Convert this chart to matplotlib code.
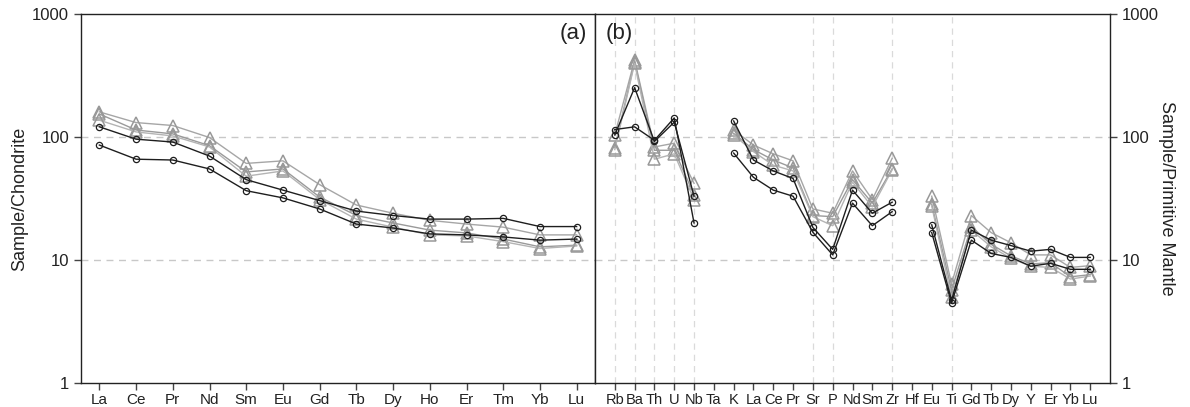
import numpy as np
import matplotlib.pyplot as plt

plt.rcParams['font.family'] = ['Liberation Sans', 'DejaVu Sans']

# (a) chondrite-normalised REE
ree = ["La", "Ce", "Pr", "Nd", "Sm", "Eu", "Gd", "Tb", "Dy", "Ho", "Er", "Tm", "Yb", "Lu"]
ree_tri1 = [160, 131, 124, 99, 61, 64, 41, 28, 24, 21, 19.6, 18.5, 16, 16]
ree_tri2 = [154, 114, 106, 85, 52, 55, 32.5, 23, 20, 17.5, 16.6, 14.8, 12.8, 13.2]
ree_tri3 = [137, 110, 102, 83, 48, 53, 31, 21.5, 18.5, 16, 15.7, 14.1, 12.4, 13.0]
ree_circ1 = [121, 96, 91, 70, 45, 37, 30.4, 25, 23, 21.5, 21.5, 21.8, 18.7, 18.7]
ree_circ2 = [86, 66, 65, 55, 36.6, 32, 26, 19.6, 18.2, 16.3, 16, 15.4, 14.5, 14.8]

# (b) primitive-mantle-normalised spider diagram (Ta, Hf not analysed)
nan = np.nan
spider = ["Rb", "Ba", "Th", "U", "Nb", "Ta", "K", "La", "Ce", "Pr", "Sr", "P", "Nd",
          "Sm", "Zr", "Hf", "Eu", "Ti", "Gd", "Tb", "Dy", "Y", "Er", "Yb", "Lu"]
sp_tri1 = [104, 423, 83, 89, 42, nan, 114, 86, 73, 64, 26, 24, 53, 31, 67, nan,
           33, 6.4, 23, 16.7, 13.8, 11.0, 11.0, 8.7, 9.0]
sp_tri2 = [82, 409, 78, 78, 34, nan, 107, 79, 65, 56, 23, 22.5, 45, 29, 55, nan,
           28.5, 5.7, 18.7, 13.4, 10.8, 9.3, 9.5, 7.3, 7.6]
sp_tri3 = [79, 397, 66, 73, 31, nan, 104, 76, 59, 53, 22.5, 19, 43, 27, 54, nan,
           27.5, 5.0, 17.5, 12.8, 10.3, 8.9, 8.7, 7.0, 7.4]
sp_circ1 = [115, 121, 94, 143, 20, nan, 135, 65, 53, 46, 18.4, 12.2, 37, 24, 29.5, nan,
            19.3, 4.7, 17.5, 14.5, 13.1, 11.8, 12.2, 10.5, 10.5]
sp_circ2 = [104, 252, 92, 132, 33, nan, 74, 47, 37, 33, 16.8, 11.0, 29, 19, 24.7, nan,
            16.7, 4.45, 14.5, 11.3, 10.5, 8.9, 9.4, 8.4, 8.4]
sp_vlines = ["Rb", "Ba", "Th", "U", "Nb", "Sr", "P", "Zr", "Ti"]

tri_colors = ["#a6a6a6", "#9a9a9a", "#b4b4b4"]
circ_color = "#1e1e1e"

W, H = 1190, 407
fig = plt.figure(figsize=(W / 100, H / 100), dpi=100)
bottom, top = 1 - 383 / H, 1 - 14 / H
ax1 = fig.add_axes([81 / W, bottom, 514 / W, top - bottom])
ax2 = fig.add_axes([595 / W, bottom, 515 / W, top - bottom])


def draw(ax, n, tris, circs):
    x = np.arange(n)
    for vals, c in zip(tris, tri_colors):
        ax.plot(x, vals, color=c, lw=1.0, marker="^", ms=8, mfc="none",
                mec="#999999", mew=1.1, zorder=3)
    for vals in circs:
        ax.plot(x, vals, color=circ_color, lw=1.0, marker="o", ms=4.5,
                mfc="none", mec=circ_color, mew=0.9, zorder=4)


draw(ax1, len(ree), [ree_tri1, ree_tri2, ree_tri3], [ree_circ1, ree_circ2])
draw(ax2, len(spider), [sp_tri1, sp_tri2, sp_tri3], [sp_circ1, sp_circ2])

for ax in (ax1, ax2):
    ax.set_yscale("log")
    ax.set_ylim(1, 1000)
    ax.yaxis.set_minor_locator(plt.NullLocator())
    ax.set_yticks([1, 10, 100, 1000])
    ax.set_yticklabels(["1", "10", "100", "1000"])
    for yv in (10, 100):
        ax.axhline(yv, color="#c8c8c8", lw=1.0, ls=(0, (5, 4)), zorder=1)
    for s in ax.spines.values():
        s.set_color("#222222")
        s.set_linewidth(1.0)
    ax.tick_params(axis="both", direction="out", length=5, width=1.0,
                   color="#444444", labelsize=12, labelcolor="#222222")

ax1.set_xlim(-0.5, len(ree) - 0.5)
ax1.set_xticks(np.arange(len(ree)))
ax1.set_xticklabels(ree, fontsize=11)
ax1.tick_params(axis="x", pad=2.5)
ax1.set_ylabel("Sample/Chondrite", fontsize=13, color="#222222", labelpad=3)
ax1.text(0.985, 0.975, "(a)", transform=ax1.transAxes, ha="right", va="top",
         fontsize=16, color="#222222")

ax2.set_xlim(-1, len(spider))
ax2.set_xticks(np.arange(len(spider)))
ax2.set_xticklabels(spider, fontsize=10.5)
ax2.tick_params(axis="x", pad=2.5)
ax2.yaxis.tick_right()
ax2.yaxis.set_label_position("right")
ax2.set_ylabel("Sample/Primitive Mantle", fontsize=13, color="#222222",
               rotation=270, labelpad=12)
for el in sp_vlines:
    ax2.axvline(spider.index(el), color="#dadada", lw=0.9, ls=(0, (5, 4)), zorder=1)
ax2.text(0.02, 0.975, "(b)", transform=ax2.transAxes, ha="left", va="top",
         fontsize=16, color="#222222")

fig.savefig("out.png", dpi=100)
